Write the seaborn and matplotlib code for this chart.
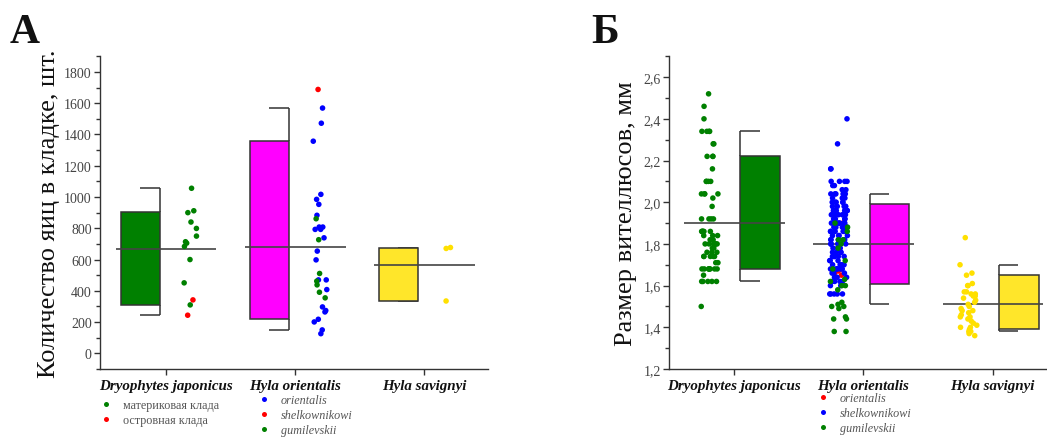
import numpy as np
import pandas as pd
import matplotlib
matplotlib.use("Agg")
import matplotlib.pyplot as plt
import seaborn as sns
from matplotlib.lines import Line2D
from matplotlib.ticker import MultipleLocator, FuncFormatter

# ---------------- data ----------------
species = ["Dryophytes japonicus", "Hyla orientalis", "Hyla savignyi"]

# Panel A: clutch size (eggs)
a_jap_mainland = [1056, 912, 900, 840, 799, 750, 714, 705, 684, 600, 451, 310]
a_jap_island = [342, 244]
a_ori_orientalis = [1569, 1472, 1357, 1017, 985, 953, 883, 808, 808, 793, 793, 739,
                    654, 598, 470, 470, 408, 297, 274, 265, 218, 201, 150, 126]
a_ori_shelkownikowi = [1688]
a_ori_gumilevskii = [861, 727, 511, 462, 438, 391, 355]
a_sav = [677, 671, 335]

a_box_low = [312, 218, 335]
a_box_high = [906, 1357, 677]
a_whisk_low = [244, 147, 335]
a_whisk_high = [1056, 1569, 677]
a_mean = [665, 680, 562]

# Panel B: vitellus size (mm)
b_jap = [2.52, 2.46, 2.40, 2.34, 2.34, 2.34, 2.34, 2.28, 2.28, 2.22, 2.22, 2.22, 2.16,
         2.10, 2.10, 2.10, 2.10, 2.04, 2.04, 2.04, 2.04, 2.02, 1.98, 1.92, 1.92, 1.92,
         1.92, 1.86, 1.86, 1.86, 1.86, 1.86, 1.86, 1.84, 1.84, 1.84, 1.82, 1.82, 1.80,
         1.80, 1.80, 1.80, 1.80, 1.80, 1.78, 1.78, 1.76, 1.76, 1.76, 1.74, 1.74, 1.74,
         1.74, 1.74, 1.71, 1.71, 1.68, 1.68, 1.68, 1.68, 1.68, 1.68, 1.68, 1.68, 1.65,
         1.62, 1.62, 1.62, 1.62, 1.62, 1.50]
b_ori_orientalis = [1.95, 1.90, 1.68, 1.67, 1.66, 1.65]
b_ori_shelkownikowi = [2.40, 2.28, 2.16, 2.16, 2.10, 2.10, 2.10, 2.10, 2.08, 2.08, 2.06,
                       2.06, 2.04, 2.04, 2.04, 2.04, 2.04, 2.02, 2.02, 2.02, 2.00, 2.00,
                       2.00, 2.00, 2.00, 1.98, 1.98, 1.98, 1.98, 1.98, 1.96, 1.96, 1.96,
                       1.96, 1.96, 1.96, 1.94, 1.94, 1.94, 1.94, 1.94, 1.94, 1.92, 1.92,
                       1.92, 1.92, 1.92, 1.90, 1.90, 1.90, 1.90, 1.90, 1.90, 1.88, 1.88,
                       1.88, 1.88, 1.88, 1.88, 1.86, 1.86, 1.86, 1.86, 1.86, 1.84, 1.84,
                       1.84, 1.84, 1.82, 1.82, 1.82, 1.82, 1.80, 1.80, 1.80, 1.80, 1.80,
                       1.80, 1.78, 1.78, 1.78, 1.78, 1.76, 1.76, 1.76, 1.76, 1.74, 1.74,
                       1.74, 1.74, 1.74, 1.74, 1.72, 1.72, 1.72, 1.70, 1.70, 1.70, 1.70,
                       1.68, 1.68, 1.68, 1.68, 1.68, 1.68, 1.66, 1.66, 1.66, 1.64, 1.64,
                       1.64, 1.62, 1.62, 1.62, 1.62, 1.60, 1.60, 1.56, 1.56, 1.56, 1.56,
                       1.56]
b_ori_gumilevskii = [1.90, 1.88, 1.86, 1.82, 1.82, 1.80, 1.78, 1.72, 1.68, 1.63, 1.62,
                     1.60, 1.60, 1.58, 1.52, 1.51, 1.50, 1.50, 1.49, 1.45, 1.44, 1.44,
                     1.38, 1.38]
b_sav = [1.83, 1.70, 1.66, 1.65, 1.61, 1.60, 1.60, 1.57, 1.57, 1.56, 1.56, 1.55, 1.55,
         1.54, 1.53, 1.52, 1.51, 1.50, 1.49, 1.48, 1.48, 1.47, 1.46, 1.45, 1.45, 1.44,
         1.43, 1.42, 1.41, 1.40, 1.40, 1.39, 1.38, 1.38, 1.37, 1.36]

b_box_low = [1.68, 1.61, 1.39]
b_box_high = [2.22, 1.99, 1.65]
b_whisk_low = [1.62, 1.51, 1.38]
b_whisk_high = [2.34, 2.04, 1.70]
b_mean = [1.90, 1.80, 1.51]

# ---------------- style ----------------
sns.set_theme(style="ticks")
plt.rcParams["font.family"] = ["Liberation Serif", "DejaVu Serif"]
plt.rcParams["axes.edgecolor"] = "#333333"
plt.rcParams["axes.linewidth"] = 1.0
plt.rcParams["xtick.color"] = "#333333"
plt.rcParams["ytick.color"] = "#333333"

GREEN, RED, BLUE, MAG, YEL = "#008000", "#FF0000", "#0000FF", "#FF00FF", "#FFE62A"
YEL_PT = "#FFE000"
EDGE = "#333333"

W, H = 1047, 439
fig = plt.figure(figsize=(W / 100, H / 100), dpi=100)
axA = fig.add_axes([100 / W, 1 - 370 / H, 388 / W, 312.7 / H])
axB = fig.add_axes([669.3 / W, 1 - 370 / H, (1056 - 669.3) / W, 312.7 / H])

np.random.seed(3)


def make_df(groups):
    rows = []
    for sp_i, grp, vals in groups:
        for v in vals:
            rows.append({"sp": sp_i, "grp": grp, "val": v})
    return pd.DataFrame(rows)


def draw_panel(ax, df, pt_off, palette, hue_order, box_l, box_h, wl, wh, mean,
               box_side, colors, jit):
    # points
    df = df.copy()
    df["pos"] = df["sp"] + pt_off
    sns.stripplot(data=df, x="pos", y="val", hue="grp", hue_order=hue_order,
                  palette=palette, native_scale=True, orient="x", jitter=jit,
                  size=4.0, linewidth=0, legend=False, ax=ax, zorder=5)
    bw = 0.305
    for i in range(3):
        if box_side == "left":
            x0 = i - 0.044 - bw
            xw = i - 0.044          # whisker at right edge
            cap = (xw - 0.155, xw)
        else:
            x0 = i + 0.05
            xw = x0                 # whisker at left edge
            cap = (xw, xw + 0.15)
        ax.vlines(xw, wl[i], box_l[i], color=EDGE, lw=1.1, zorder=2)
        ax.vlines(xw, box_h[i], wh[i], color=EDGE, lw=1.1, zorder=2)
        ax.hlines([wl[i], wh[i]], cap[0], cap[1], color=EDGE, lw=1.1, zorder=2)
        ax.bar(x0, box_h[i] - box_l[i], bottom=box_l[i], width=bw, align="edge",
               color=colors[i], edgecolor=EDGE, linewidth=1.1, zorder=3)
        ax.hlines(mean[i], i - 0.387, i + 0.393, color="#444444", lw=1.2, zorder=4)
    ax.set_xticks([0, 1, 2])
    ax.set_xticklabels(species, fontstyle="italic", fontweight="bold", fontsize=10.8,
                       color="#111111")
    ax.set_xlabel("")
    sns.despine(ax=ax)
    ax.tick_params(axis="x", length=4, width=1.0, pad=3)
    ax.tick_params(axis="y", which="major", length=4, width=1.0, pad=2, labelsize=10,
                   labelcolor="#444444")
    ax.tick_params(axis="y", which="minor", length=3, width=1.0)


# Panel A
dfA = make_df([(0, "материковая клада", a_jap_mainland), (0, "островная клада", a_jap_island),
               (1, "orientalis", a_ori_orientalis), (1, "shelkownikowi", a_ori_shelkownikowi),
               (1, "gumilevskii", a_ori_gumilevskii), (2, "savignyi", a_sav)])
palA = {"материковая клада": GREEN, "островная клада": RED, "orientalis": BLUE,
        "shelkownikowi": RED, "gumilevskii": GREEN, "savignyi": YEL_PT}
draw_panel(axA, dfA, 0.195, palA,
           ["материковая клада", "островная клада", "orientalis", "shelkownikowi",
            "gumilevskii", "savignyi"],
           a_box_low, a_box_high, a_whisk_low, a_whisk_high, a_mean, "left",
           [GREEN, MAG, YEL], 0.055)
axA.set_xlim(-0.508, 2.495)
axA.set_ylim(-100, 1900)
axA.yaxis.set_major_locator(MultipleLocator(200))
axA.yaxis.set_minor_locator(MultipleLocator(100))
axA.set_ylabel("Количество яиц в кладке, шт.", fontsize=19, color="#111111")
axA.yaxis.set_label_coords(-0.103, 0.5)

# Panel B
dfB = make_df([(0, "jap", b_jap), (1, "orientalis", b_ori_orientalis),
               (1, "shelkownikowi", b_ori_shelkownikowi),
               (1, "gumilevskii", b_ori_gumilevskii), (2, "savignyi", b_sav)])
palB = {"jap": GREEN, "orientalis": RED, "shelkownikowi": BLUE, "gumilevskii": GREEN,
        "savignyi": YEL_PT}
draw_panel(axB, dfB, -0.19, palB,
           ["jap", "gumilevskii", "shelkownikowi", "orientalis", "savignyi"],
           b_box_low, b_box_high, b_whisk_low, b_whisk_high, b_mean, "right",
           [GREEN, MAG, YEL], 0.07)
axB.set_xlim(-0.5, 2.49)
axB.set_ylim(1.2, 2.7)
axB.yaxis.set_major_locator(MultipleLocator(0.2))
axB.yaxis.set_minor_locator(MultipleLocator(0.1))
axB.yaxis.set_major_formatter(FuncFormatter(lambda v, p: f"{v:.1f}".replace(".", ",")))
axB.set_ylabel("Размер вителлюсов, мм", fontsize=19, color="#111111")
axB.yaxis.set_label_coords(-0.0835, 0.5)

# panel letters
fig.text(10 / W, 1 - 43 / H, "А", fontsize=30, fontweight="bold", va="baseline",
         ha="left", color="#111111")
fig.text(591 / W, 1 - 43 / H, "Б", fontsize=30, fontweight="bold", va="baseline",
         ha="left", color="#111111")


# legends
def leg(handles, labels, x0, top, italic):
    prop = {"size": 8.7, "style": "italic" if italic else "normal"}
    lg = fig.legend(handles, labels, loc="upper left", bbox_to_anchor=(x0 / W, 1 - top / H),
                    bbox_transform=fig.transFigure, frameon=False, prop=prop,
                    handlelength=1.0, handletextpad=0.9, labelspacing=0.25,
                    borderpad=0, borderaxespad=0, labelcolor="#555555")
    return lg


def h(c):
    return Line2D([], [], marker="o", ls="", color=c, ms=3.6, mew=0)


leg([h(GREEN), h(RED)], ["материковая клада", "островная клада"], 100, 400, False)
leg([h(BLUE), h(RED), h(GREEN)], ["orientalis", "shelkownikowi", "gumilevskii"],
    258, 395, True)
leg([h(RED), h(BLUE), h(GREEN)], ["orientalis", "shelkownikowi", "gumilevskii"],
    817, 393, True)

fig.savefig("out.png", dpi=100, facecolor="white")
